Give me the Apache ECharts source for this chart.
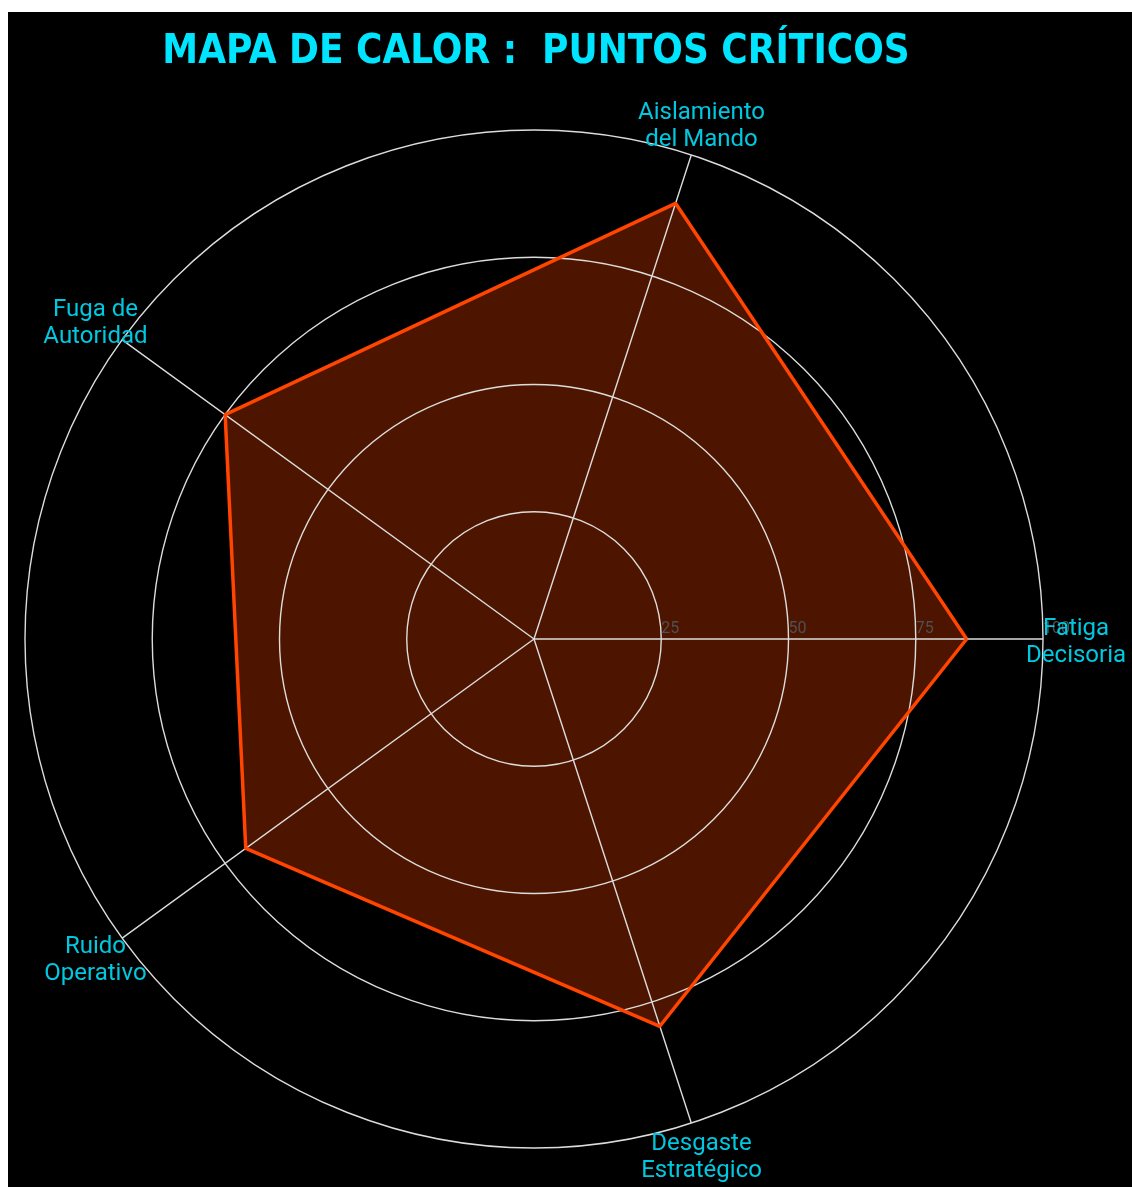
<!DOCTYPE html>
<html>
<head>
<meta charset="utf-8">
<script src="https://cdn.jsdelivr.net/npm/echarts@6/dist/echarts.min.js"></script>
<style>
html,body{margin:0;padding:0;background:#ffffff;}
#chart{position:absolute;left:8px;top:12px;width:1124px;height:1175px;background:#000000;}
</style>
</head>
<body>
<div id="chart"></div>
<script>
const titleText = 'MAPA DE CALOR :  PUNTOS CRÍTICOS';
const categories = ['Fatiga\nDecisoria', 'Aislamiento\ndel Mando', 'Fuga de\nAutoridad', 'Ruido\nOperativo', 'Desgaste\nEstratégico'];
const values = [85, 90, 75, 70, 80];
const radiusTicks = [0, 25, 50, 75, 100];
const labelRadius = 106.5;

const step = 360 / categories.length;
const closed = values.concat([values[0]]).map((v, i) => [v, i * step]);
const labelPoints = categories.map((c, i) => ({name: c, value: [labelRadius, i * step]}));

const chart = echarts.init(document.getElementById('chart'));
chart.setOption({
  backgroundColor: '#000000',
  animation: false,
  title: {
    text: titleText,
    left: 523, top: 16,
    textAlign: 'center',
    textStyle: {color: '#00E5FF', fontFamily: 'DejaVu Sans Condensed', fontWeight: 'bold', fontSize: 40}
  },
  polar: {center: [526, 627], radius: 509},
  angleAxis: {
    type: 'value', min: 0, max: 360, interval: step,
    startAngle: 0, clockwise: false, z: 2,
    axisLine: {show: false},
    axisTick: {show: false},
    splitLine: {show: true, lineStyle: {color: '#dcdcdc', width: 1.4}},
    axisLabel: {show: false}
  },
  radiusAxis: {
    type: 'value', min: 0, max: 100, interval: 25, z: 2,
    axisLine: {show: false},
    axisTick: {show: false},
    splitLine: {show: true, lineStyle: {color: '#dcdcdc', width: 1.4}},
    axisLabel: {
      show: true, color: '#505050', fontFamily: 'Roboto', fontSize: 16,
      align: 'left', verticalAlign: 'bottom', margin: 2,
      formatter: function (v) { return radiusTicks.indexOf(v) > 0 ? String(v) : ''; }
    }
  },
  series: [
    {
      type: 'line', coordinateSystem: 'polar', data: closed, z: 1,
      symbol: 'none', lineStyle: {width: 0},
      areaStyle: {color: 'rgba(255,69,0,0.3)', opacity: 1}
    },
    {
      type: 'line', coordinateSystem: 'polar', data: closed, z: 3,
      symbol: 'none', lineStyle: {color: '#FF4500', width: 3.5}
    },
    {
      type: 'scatter', coordinateSystem: 'polar', data: labelPoints, z: 5,
      clip: false, symbolSize: 1, itemStyle: {color: '#000000', opacity: 0},
      silent: true,
      label: {
        show: true, position: 'inside', align: 'center', verticalAlign: 'middle', offset: [0, 3],
        formatter: '{b}', color: '#00C8E0', opacity: 1, textBorderWidth: 0,
        fontFamily: 'Roboto', fontSize: 24, lineHeight: 27
      }
    }
  ]
});
</script>
</body>
</html>
